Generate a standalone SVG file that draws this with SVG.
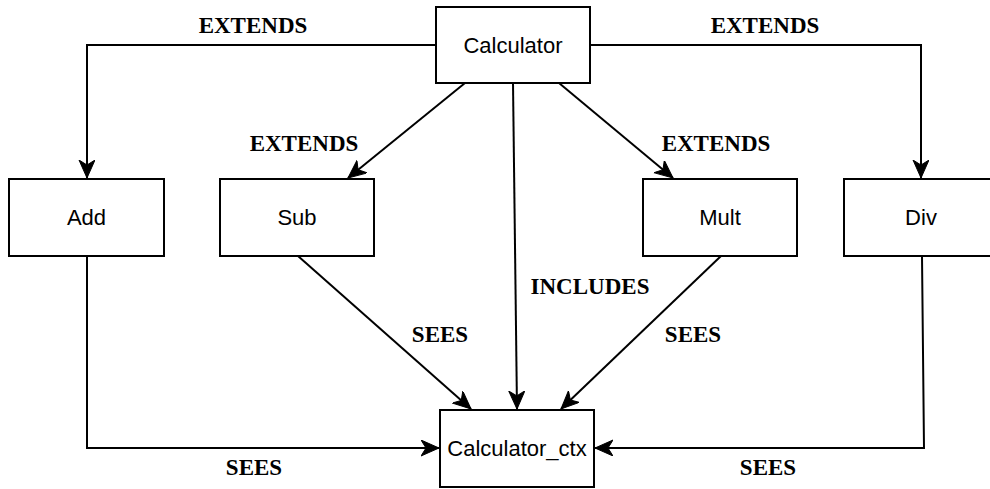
<svg xmlns="http://www.w3.org/2000/svg" width="990" height="489" viewBox="0 0 990 489">
<style>
.box{fill:#fff;stroke:#000;stroke-width:2}
.nt{font-family:"Liberation Sans",Arial,sans-serif;font-size:22px;text-anchor:middle;fill:#000}
.lb{font-family:"Liberation Serif","Times New Roman",serif;font-size:23px;font-weight:bold;text-anchor:middle;fill:#000}
.ln{fill:none;stroke:#000;stroke-width:2;marker-end:url(#arr)}
</style>
<defs>
<marker id="arr" markerUnits="userSpaceOnUse" markerWidth="24" markerHeight="24" refX="18" refY="8" orient="auto" viewBox="0 0 24 24">
<path d="M0,0 L18,8 L0,16 L5,8 Z" fill="#000" stroke="#000" stroke-width="1"/>
</marker>
</defs>
<rect width="990" height="489" fill="#fff"/>
<g id="connectors">
<path class="ln" d="M436,45 L87,45 L87,178"/>
<path class="ln" d="M590,45 L921,45 L921,178"/>
<path class="ln" d="M465,83 L348,178"/>
<path class="ln" d="M559,83 L673,178"/>
<path class="ln" d="M513,83 L517,409"/>
<path class="ln" d="M298,256 L471,409"/>
<path class="ln" d="M721,256 L561,409"/>
<path class="ln" d="M87,256 L87,448 L439,448"/>
<path class="ln" d="M922,256 L924,448 L595,448"/>
</g>
<g id="labels">
<text class="lb" x="253" y="33">EXTENDS</text>
<text class="lb" x="765" y="33">EXTENDS</text>
<text class="lb" x="304" y="151">EXTENDS</text>
<text class="lb" x="716" y="151">EXTENDS</text>
<text class="lb" x="590" y="294">INCLUDES</text>
<text class="lb" x="440" y="342">SEES</text>
<text class="lb" x="693" y="342">SEES</text>
<text class="lb" x="254" y="475">SEES</text>
<text class="lb" x="768" y="475">SEES</text>
</g>
<g id="calculator"><rect class="box" x="436" y="7" width="154" height="76"/><text class="nt" x="513" y="53">Calculator</text></g>
<g id="add"><rect class="box" x="9" y="179" width="155" height="77"/><text class="nt" x="86.5" y="225">Add</text></g>
<g id="sub"><rect class="box" x="220" y="179" width="154" height="77"/><text class="nt" x="297" y="225">Sub</text></g>
<g id="mult"><rect class="box" x="643" y="179" width="154" height="77"/><text class="nt" x="720" y="225">Mult</text></g>
<g id="div"><rect class="box" x="844" y="179" width="155" height="77"/><text class="nt" x="921" y="225">Div</text></g>
<g id="calculator_ctx"><rect class="box" x="440" y="410" width="154" height="77"/><text class="nt" x="517" y="456">Calculator_ctx</text></g>
</svg>
